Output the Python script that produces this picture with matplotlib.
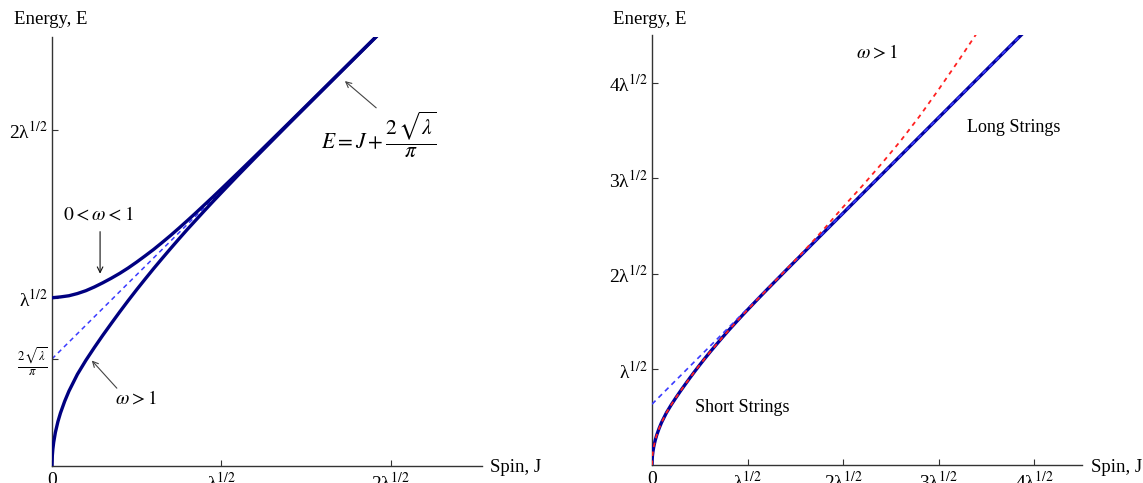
import matplotlib
matplotlib.use("Agg")
import matplotlib.pyplot as plt

plt.rcParams['font.family'] = ['Liberation Serif', 'DejaVu Serif']
plt.rcParams['mathtext.fontset'] = 'stix'

# ---- data (units of sqrt(lambda)) ----
asym_J = [0.0, 4.2]
asym_E = [0.6366, 4.8366]

upper_J = [0.0, 0.05, 0.1, 0.15, 0.2, 0.25, 0.3, 0.35, 0.4, 0.45, 0.5, 0.55, 0.6, 0.65,
           0.7, 0.75, 0.8, 0.85, 0.9, 0.95, 1.0, 1.1, 1.2, 1.4, 1.6, 1.8, 2.0]
upper_E = [1.000, 1.005, 1.012, 1.025, 1.042, 1.064, 1.089, 1.116, 1.145, 1.177, 1.212, 1.249, 1.287, 1.328,
           1.370, 1.414, 1.459, 1.505, 1.552, 1.599, 1.647, 1.744, 1.842, 2.040, 2.239, 2.438, 2.637]

lower_J = [0.0, 0.002, 0.005, 0.01, 0.02, 0.035, 0.05, 0.075, 0.1, 0.15, 0.2, 0.25, 0.3, 0.35,
           0.4, 0.45, 0.5, 0.55, 0.6, 0.65, 0.7, 0.75, 0.8, 0.85, 0.9, 0.95, 1.0, 1.1, 1.2,
           1.4, 1.7, 2.0, 2.5, 3.0, 3.5, 4.0]
lower_E = [0.0, 0.063, 0.100, 0.141, 0.200, 0.264, 0.315, 0.385, 0.445, 0.545, 0.628, 0.704, 0.777, 0.847,
           0.916, 0.983, 1.048, 1.111, 1.173, 1.233, 1.292, 1.350, 1.407, 1.462, 1.517, 1.571, 1.624, 1.729, 1.832,
           2.035, 2.336, 2.636, 3.136, 3.636, 4.136, 4.636]

short_J = [0.0, 0.002, 0.005, 0.01, 0.02, 0.035, 0.05, 0.075, 0.1, 0.15, 0.2, 0.25, 0.3, 0.35,
           0.4, 0.45, 0.5, 0.55, 0.6, 0.65, 0.7, 0.75, 0.8, 0.85, 0.9, 0.95, 1.0, 1.1, 1.2,
           1.4, 1.6, 1.8, 2.0, 2.2, 2.4, 2.6, 2.8, 3.0, 3.2, 3.4]
short_E = [0.0, 0.063, 0.100, 0.141, 0.200, 0.264, 0.315, 0.385, 0.445, 0.545, 0.628, 0.704, 0.777, 0.847,
           0.916, 0.983, 1.048, 1.111, 1.173, 1.233, 1.292, 1.350, 1.407, 1.462, 1.517, 1.571, 1.624, 1.729, 1.833,
           2.040, 2.250, 2.470, 2.700, 2.920, 3.150, 3.390, 3.650, 3.930, 4.220, 4.520]

left_xticks = [0, 1, 2]
left_xlabels = ['0', 'λ$^{1/2}$', '2λ$^{1/2}$']
left_yticks = [0.6366, 1, 2]
left_ylabels = [r'$\frac{2\,\sqrt{\lambda}}{\pi}$', 'λ$^{1/2}$', '2λ$^{1/2}$']
right_xticks = [0, 1, 2, 3, 4]
right_xlabels = ['0', 'λ$^{1/2}$', '2λ$^{1/2}$', '3λ$^{1/2}$', '4λ$^{1/2}$']
right_yticks = [1, 2, 3, 4]
right_ylabels = ['λ$^{1/2}$', '2λ$^{1/2}$', '3λ$^{1/2}$', '4λ$^{1/2}$']

W, H = 1143, 483
fig = plt.figure(figsize=(W / 100, H / 100), dpi=100)

def px_axes(x0, x1, ybot, ytop):
    return fig.add_axes([x0 / W, 1 - ybot / H, (x1 - x0) / W, (ybot - ytop) / H])

axL = px_axes(52, 482, 466, 37)
axR = px_axes(652, 1082, 465, 35)

navy = '#000080'
for ax in (axL, axR):
    for s in ('top', 'right'):
        ax.spines[s].set_visible(False)
    for s in ('left', 'bottom'):
        ax.spines[s].set_color('#333333')
        ax.spines[s].set_linewidth(1.0)
    ax.tick_params(direction='in', length=4, width=0.8, colors='#333333', labelcolor='black',
                   labelsize=14)
    ax.tick_params(axis='y', pad=3)
    ax.tick_params(axis='x', pad=4)

# ---- left panel ----
axL.plot(asym_J, asym_E, color='#3a3aff', lw=1.1, dashes=(3, 2.5), zorder=2)
axL.plot(upper_J, upper_E, color=navy, lw=2.4, zorder=3)
axL.plot(lower_J, lower_E, color=navy, lw=2.4, zorder=3)
axL.set_xlim(0, 2.54)
axL.set_ylim(0, 2.55)
axL.set_xticks(left_xticks)
axL.set_xticklabels(left_xlabels)
axL.set_yticks(left_yticks)
axL.set_yticklabels(left_ylabels)
axL.get_yticklabels()[0].set_fontsize(13)

def arrow(ax, start, end, color='#333333'):
    ax.annotate('', xy=end, xytext=start,
                arrowprops=dict(arrowstyle='->', color=color, lw=0.8, shrinkA=0, shrinkB=0,
                                mutation_scale=10))

axL.text(0.272, 1.494, r'$0 < \omega < 1$', ha='center', va='center', fontsize=14)
arrow(axL, (0.284, 1.393), (0.284, 1.143), '#111111')
axL.text(0.497, 0.399, r'$\omega > 1$', ha='center', va='center', fontsize=14)
arrow(axL, (0.383, 0.4625), (0.235, 0.627), '#444444')
axL.text(1.93, 1.97, r'$E = J + \dfrac{2\,\sqrt{\lambda}}{\pi}$', ha='center', va='center', fontsize=15.5)
arrow(axL, (1.915, 2.129), (1.73, 2.288), '#444444')

# ---- right panel ----
axR.plot(lower_J, lower_E, color='#00009c', lw=2.4, zorder=3)
axR.plot(asym_J, asym_E, color='#3a3aff', lw=1.2, dashes=(3, 2.5), zorder=4)
axR.plot(short_J, short_E, color='#ff2020', lw=1.3, dashes=(2.5, 2.5), zorder=5)
axR.set_xlim(0, 4.5)
axR.set_ylim(0, 4.5)
axR.set_xticks(right_xticks)
axR.set_xticklabels(right_xlabels)
axR.set_yticks(right_yticks)
axR.set_yticklabels(right_ylabels)

axR.text(2.356, 4.314, r'$\omega > 1$', ha='center', va='center', fontsize=14)
axR.text(3.79, 3.529, 'Long Strings', ha='center', va='center', fontsize=13)
axR.text(0.942, 0.597, 'Short Strings', ha='center', va='center', fontsize=13)

# axis titles
fig.text(51 / W, 1 - 20 / H, 'Energy, E', ha='center', va='center', fontsize=13.5)
fig.text(650 / W, 1 - 19 / H, 'Energy, E', ha='center', va='center', fontsize=13.5)
fig.text(490 / W, 1 - 467 / H, 'Spin, J', ha='left', va='center', fontsize=13.5)
fig.text(1091 / W, 1 - 467 / H, 'Spin, J', ha='left', va='center', fontsize=13.5)

fig.savefig('out.png', dpi=100)
